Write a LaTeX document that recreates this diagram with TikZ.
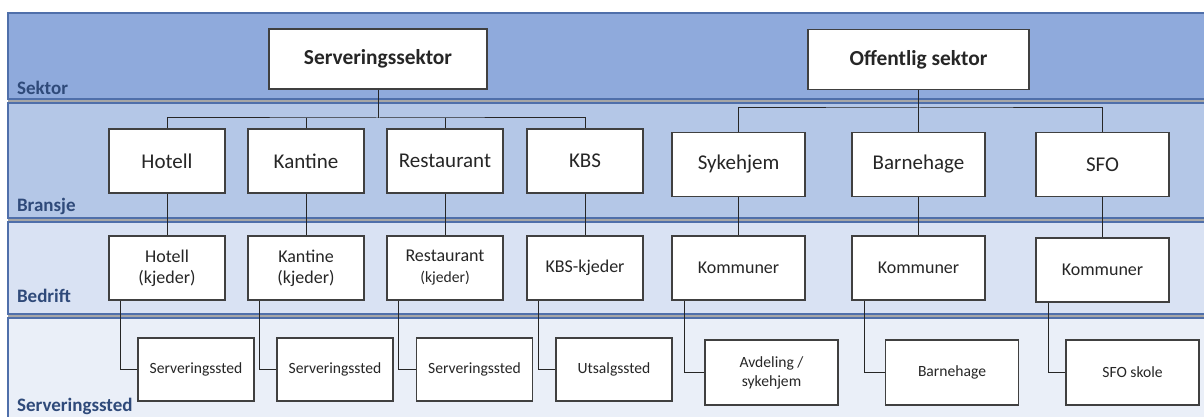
\documentclass[tikz,border=0pt]{standalone}
\usepackage{fontspec}
\setmainfont{Carlito}
\usepackage{xcolor}
\usetikzlibrary{calc}

\definecolor{sektorfill}{HTML}{8FAADC}
\definecolor{bransjefill}{HTML}{B4C7E7}
\definecolor{bedriftfill}{HTML}{D9E2F3}
\definecolor{stedfill}{HTML}{EAEFF8}
\definecolor{bandline}{HTML}{4F6FAA}
\definecolor{bandtext}{HTML}{2F4A7A}

\tikzset{
	band/.style={draw=bandline, line width=0.6pt},
	bandlabel/.style={anchor=west, text=bandtext, font=\fontsize{9.5}{11}\selectfont\bfseries},
	box/.style={draw=black!75, fill=white, line width=0.6pt, align=center, inner sep=1pt, text=black!85},
	topbox/.style={box, minimum width=109pt, minimum height=30pt, font=\fontsize{10.7}{12}\selectfont\bfseries},
	grenbox/.style={box, minimum width=58pt, minimum height=32pt, font=\fontsize{10.5}{12}\selectfont},
	grenboxw/.style={grenbox, minimum width=66.5pt},
	firmabox/.style={box, minimum width=58pt, minimum height=32pt, font=\fontsize{9}{10.5}\selectfont},
	firmaboxw/.style={firmabox, minimum width=66.5pt},
	stedbox/.style={box, minimum width=58pt, minimum height=31.5pt, font=\fontsize{7.8}{9.5}\selectfont},
	stedboxw/.style={stedbox, minimum width=66.5pt, minimum height=32.5pt},
	link/.style={draw=black!85, line width=0.5pt}
}

\begin{document}
\begin{tikzpicture}[x=0.5pt, y=-0.5pt]
	\useasboundingbox (0,0) rectangle (1204,417);
	\fill[white] (0,0) rectangle (1204,417);
	
	% bands
	\draw[band, fill=sektorfill] (8,13) rectangle (1210,99);
	\draw[band, fill=bransjefill] (8,103) rectangle (1210,218);
	\draw[band, fill=bedriftfill] (8,222) rectangle (1210,314);
	\draw[band, fill=stedfill] (8,318) rectangle (1210,425);
	\draw[black!35, line width=0.8pt] (8,101) -- (1210,101);
	\draw[black!35, line width=0.8pt] (8,220) -- (1210,220);
	\draw[black!35, line width=0.8pt] (8,316) -- (1210,316);
	
	\node[bandlabel] (lsektor) at (10,88) {Sektor};
	\node[bandlabel] (lbransje) at (10,206) {Bransje};
	\node[bandlabel] (lbedrift) at (10,296) {Bedrift};
	\node[bandlabel] (lsted) at (10,406) {Serveringssted};
	
	% sektor
	\node[topbox] (servsektor) at (378,59) {Serveringssektor};
	\node[topbox, minimum width=110.5pt] (offsektor) at (918.5,59.5) {Offentlig sektor};
	
	% bransje
	\node[grenbox] (hotell) at (167,161) {Hotell};
	\node[grenbox] (kantine) at (306,161) {Kantine};
	\node[grenbox] (restaurant) at (445,161) {Restaurant};
	\node[grenbox] (kbs) at (585,161) {KBS};
	\node[grenboxw] (sykehjem) at (738.5,164.5) {Sykehjem};
	\node[grenboxw] (barnehage) at (918.5,164.5) {Barnehage};
	\node[grenboxw] (sfo) at (1102.5,164.5) {SFO};
	
	% bedrift
	\node[firmabox] (hotellk) at (167,268) {Hotell\\(kjeder)};
	\node[firmabox] (kantinek) at (306,268) {Kantine\\(kjeder)};
	\node[firmabox] (restk) at (445,268) {Restaurant\\{\fontsize{7.8}{9}\selectfont(kjeder)}};
	\node[firmabox] (kbsk) at (585,268) {KBS-kjeder};
	\node[firmaboxw] (komm1) at (738.5,268) {Kommuner};
	\node[firmaboxw] (komm2) at (918.5,268) {Kommuner};
	\node[firmaboxw] (komm3) at (1102.5,270) {Kommuner};
	
	% serveringssted
	\node[stedbox] (sted1) at (196,369.5) {Serveringssted};
	\node[stedbox] (sted2) at (335,369.5) {Serveringssted};
	\node[stedbox] (sted3) at (474.5,369.5) {Serveringssted};
	\node[stedbox] (sted4) at (614,369.5) {Utsalgssted};
	\node[stedboxw] (sted5) at (771.5,372.5) {Avdeling /\\sykehjem};
	\node[stedboxw] (sted6) at (952,372.5) {Barnehage};
	\node[stedboxw] (sted7) at (1132.5,372.5) {SFO skole};
	
	% tree lines
	\coordinate (busl) at (378,118);
	\coordinate (busr) at (918.5,108);
	\draw[link] (servsektor.south) -- (busl);
	\draw[link] (hotell.north) |- (busl) -| (kbs.north);
	\draw[link] (kantine.north) -- (kantine.north |- busl);
	\draw[link] (restaurant.north) -- (restaurant.north |- busl);
	\draw[link] (offsektor.south) -- (barnehage.north);
	\draw[link] (sykehjem.north) |- (busr) -| (sfo.north);
	
	\draw[link] (hotell) -- (hotellk);
	\draw[link] (kantine) -- (kantinek);
	\draw[link] (restaurant) -- (restk);
	\draw[link] (kbs) -- (kbsk);
	\draw[link] (sykehjem) -- (komm1);
	\draw[link] (barnehage) -- (komm2);
	\draw[link] (sfo) -- (komm3);
	
	\draw[link] ($(hotellk.south west)+(12,0)$) |- (sted1.west);
	\draw[link] ($(kantinek.south west)+(12,0)$) |- (sted2.west);
	\draw[link] ($(restk.south west)+(12,0)$) |- (sted3.west);
	\draw[link] ($(kbsk.south west)+(12,0)$) |- (sted4.west);
	\draw[link] ($(komm1.south west)+(13,0)$) |- (sted5.west);
	\draw[link] ($(komm2.south west)+(13,0)$) |- (sted6.west);
	\draw[link] ($(komm3.south west)+(13,0)$) |- (sted7.west);
\end{tikzpicture}
\end{document}
